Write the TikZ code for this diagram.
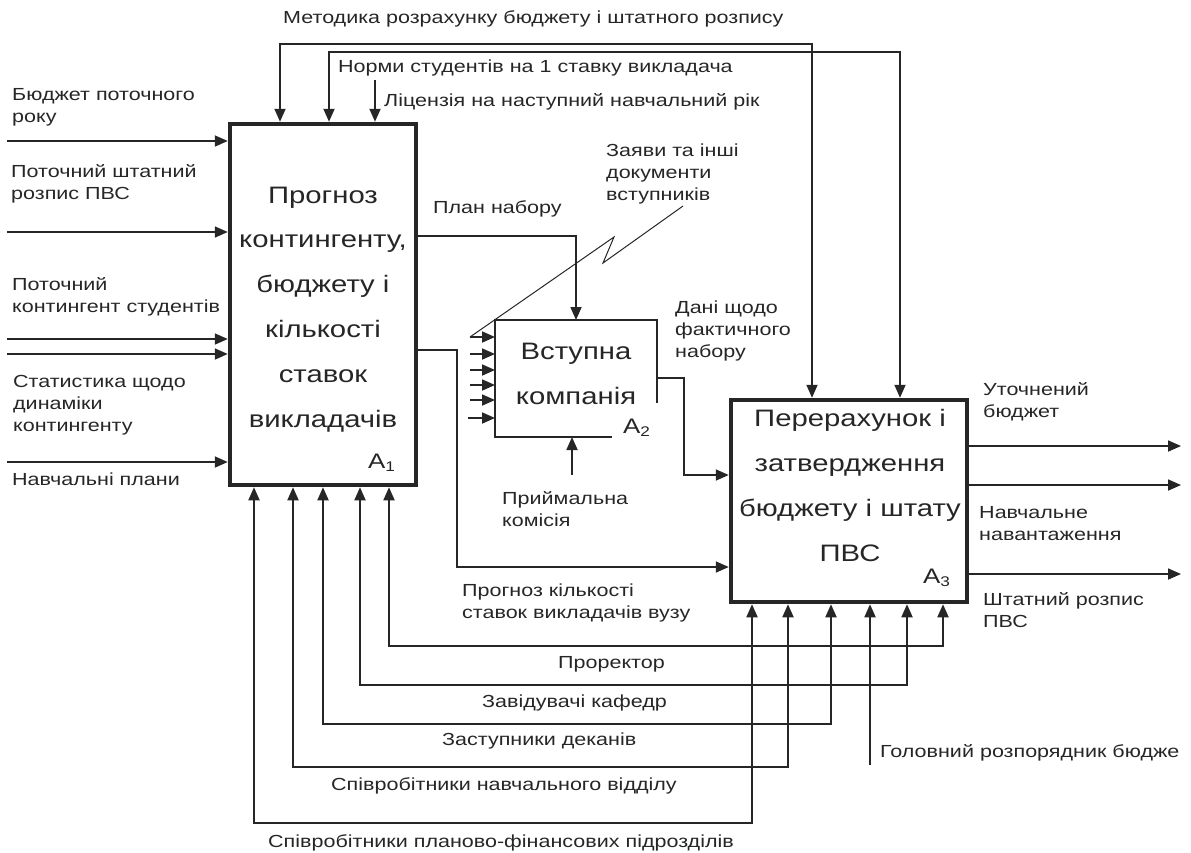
\documentclass[tikz,border=0pt]{standalone}
\usepackage{fontspec}
\setmainfont{Liberation Sans}[FakeStretch=1.23]
\usetikzlibrary{arrows.meta}
\newcommand\lbf{\fontsize{17.5}{22}\selectfont}
\newcommand\bgf{\fontsize{23.8}{44.8}\selectfont}
\newcommand\anum[1]{A\raisebox{-0.35ex}{\fontsize{14}{14}\selectfont #1}}
\tikzset{
	box/.style={draw, line width=4.5pt, inner sep=0},
	sbox/.style={line width=1.8pt, inner sep=0, outer sep=0},
	flow/.style={line width=1.8pt, -{Triangle[length=13pt,width=11pt]}},
	both/.style={line width=1.8pt, {Triangle[length=13pt,width=11pt]}-{Triangle[length=13pt,width=11pt]}},
	zig/.style={line width=1pt},
	lbl/.style={font=\lbf, anchor=base west, align=left, inner sep=0},
	big/.style={font=\bgf, anchor=base, align=center, inner sep=0},
	idx/.style={font=\fontsize{21}{21}\selectfont, anchor=base west, inner sep=0},
}

\begin{document}
\begin{tikzpicture}[x=1pt, y=-1pt, black!85]
	\useasboundingbox (0,0) rectangle (1191,852);

	\node[box, minimum width=186, minimum height=361] (A1) at (323,304.5) {};
	\node[sbox, minimum width=162, minimum height=117] (A2) at (576,378.5) {};
	\node[box, minimum width=236, minimum height=202] (A3) at (849,501) {};

	\draw[sbox] ([xshift=117]A2.south west) -- (A2.south west) -- (A2.north west) -- (A2.north east) -- ([yshift=34]A2.south east);

	\node[big] (t1) at (323,427) {Прогноз\\контингенту,\\бюджету і\\кількості\\ставок\\викладачів};
	\node[big] (t2) at (576,404) {Вступна\\компанія};
	\node[big] (t3) at (850,561) {Перерахунок і\\затвердження\\бюджету і штату\\ПВС};
	\node[idx] (n1) at (368,468) {\anum{1}};
	\node[idx] (n2) at (623,433) {\anum{2}};
	\node[idx] (n3) at (923,583) {\anum{3}};

	\node[lbl] (metod) at (283,23) {Методика розрахунку бюджету і штатного розпису};
	\node[lbl] (norms) at (338,72) {Норми студентів на 1 ставку викладача};
	\node[lbl] (lic) at (384,106) {Ліцензія на наступний навчальний рік};
	\node[lbl] (bud) at (12,122) {Бюджет поточного\\року};
	\node[lbl] (shtp) at (11,199) {Поточний штатний\\розпис ПВС};
	\node[lbl] (kont) at (12,312) {Поточний\\контингент студентів};
	\node[lbl] (stat) at (13,431) {Статистика щодо\\динаміки\\контингенту};
	\node[lbl] (plany) at (12,485) {Навчальні плани};
	\node[lbl] (plan) at (433,213) {План набору};
	\node[lbl] (zay) at (606,200) {Заяви та інші\\документи\\вступників};
	\node[lbl] (dani) at (675,357) {Дані щодо\\фактичного\\набору};
	\node[lbl] (pryim) at (502,526) {Приймальна\\комісія};
	\node[lbl] (prst) at (462,618) {Прогноз кількості\\ставок викладачів вузу};
	\node[lbl] (prorek) at (558,668) {Проректор};
	\node[lbl] (zav) at (482,707) {Завідувачі кафедр};
	\node[lbl] (zast) at (442,745) {Заступники деканів};
	\node[lbl] (spnv) at (331,790) {Співробітники навчального відділу};
	\node[lbl] (spfin) at (268,847) {Співробітники планово-фінансових підрозділів};
	\node[lbl] (golov) at (880,757) {Головний розпорядник бюдже};
	\node[lbl] (utoch) at (983,417) {Уточнений\\бюджет};
	\node[lbl] (navch) at (979,540) {Навчальне\\навантаження};
	\node[lbl] (shtr) at (983,627) {Штатний розпис\\ПВС};

	\coordinate (in1) at (7,141);
	\coordinate (in2) at (7,232);
	\coordinate (in3) at (7,339);
	\coordinate (in4) at (7,354);
	\coordinate (in5) at (7,462);
	\draw[flow] (in1) -- (in1 -| A1.west);
	\draw[flow] (in2) -- (in2 -| A1.west);
	\draw[flow] (in3) -- (in3 -| A1.west);
	\draw[flow] (in4) -- (in4 -| A1.west);
	\draw[flow] (in5) -- (in5 -| A1.west);

	\coordinate (mt) at (812,44);
	\coordinate (nr) at (900,52);
	\coordinate (li) at (375,80);
	\draw[both] (280,0 |- A1.north) |- (mt) -- (mt |- A3.north);
	\draw[both] (329,0 |- A1.north) |- (nr) -- (nr |- A3.north);
	\draw[flow] (li) -- (li |- A1.north);

	\draw[flow] (A1.east |- 0,236) -| (A2.north);
	\coordinate (pk) at (457,567);
	\draw[flow] (A1.east |- 0,350) -| (pk) -- (pk -| A3.west);

	\coordinate (z1) at (470,337);
	\coordinate (z2) at (470,354);
	\coordinate (z3) at (470,370);
	\coordinate (z4) at (470,385);
	\coordinate (z5) at (470,400);
	\coordinate (z6) at (468,418);
	\draw[flow] (z1) -- (z1 -| A2.west);
	\draw[flow] (z2) -- (z2 -| A2.west);
	\draw[flow] (z3) -- (z3 -| A2.west);
	\draw[flow] (z4) -- (z4 -| A2.west);
	\draw[flow] (z5) -- (z5 -| A2.west);
	\draw[flow] (z6) -- (z6 -| A2.west);
	\draw[zig] (683,206) -- (603,263) -- (614,237) -- (z1);

	\coordinate (pc) at (572,475);
	\draw[flow] (pc) -- (pc |- A2.south);
	\coordinate (dn) at (684,475);
	\draw[flow] (A2.east |- 0,378) -| (dn) -- (dn -| A3.west);

	\coordinate (o1) at (1181,446);
	\coordinate (o2) at (1181,485);
	\coordinate (o3) at (1181,574);
	\draw[flow] (o1 -| A3.east) -- (o1);
	\draw[flow] (o2 -| A3.east) -- (o2);
	\draw[flow] (o3 -| A3.east) -- (o3);

	\draw[both] (389,0 |- A1.south) |- (943,646) -- (943,0 |- A3.south);
	\draw[both] (360,0 |- A1.south) |- (907,685) -- (907,0 |- A3.south);
	\draw[both] (323,0 |- A1.south) |- (831,724) -- (831,0 |- A3.south);
	\draw[both] (293,0 |- A1.south) |- (788,767) -- (788,0 |- A3.south);
	\draw[both] (254,0 |- A1.south) |- (752,823) -- (752,0 |- A3.south);
	\coordinate (gr) at (870,765);
	\draw[flow] (gr) -- (gr |- A3.south);
\end{tikzpicture}
\end{document}
